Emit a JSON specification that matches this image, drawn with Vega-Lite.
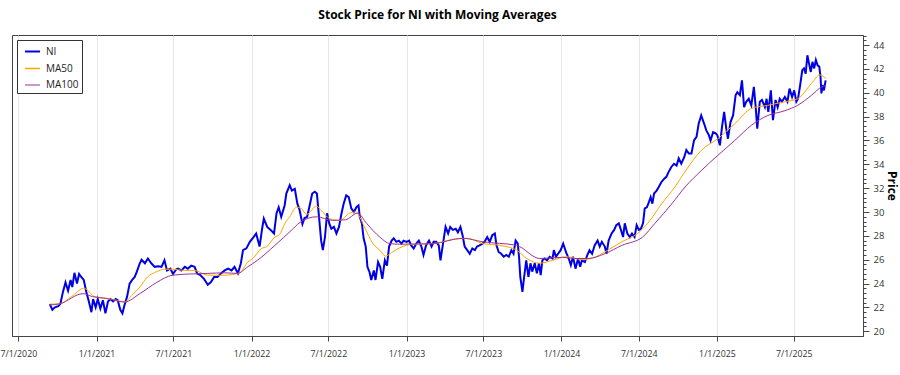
{
  "$schema": "https://vega.github.io/schema/vega-lite/v6.json",
  "width": 851,
  "height": 301,
  "autosize": {"type": "none"},
  "padding": {"left": 12, "top": 35, "right": 37, "bottom": 39},
  "background": "white",
  "title": {"text": "Stock Price for NI with Moving Averages", "fontSize": 12, "fontWeight": "bold", "font": "Open Sans", "color": "#000000", "offset": 9, "anchor": "middle", "frame": "group"},
  "config": {
    "font": "Open Sans",
    "view": {"stroke": "#444444", "strokeWidth": 1},
    "legend": {"orient": "top-left", "offset": 5, "padding": 3, "symbolOffset": 4, "strokeColor": "#333333", "fillColor": "white", "labelFontSize": 10, "labelFont": "Open Sans", "labelColor": "#222222", "symbolSize": 225, "symbolType": "stroke", "rowPadding": 3, "labelOffset": 5, "cornerRadius": 0}
  },
  "datasets": {
    "ni": [
      {"date":"2020-09-13","price":22.27},{"date":"2020-09-19","price":21.8},{"date":"2020-09-25","price":22.0},{"date":"2020-10-03","price":22.1},{"date":"2020-10-08","price":22.3},{"date":"2020-10-14","price":23.3},{"date":"2020-10-20","price":24.1},{"date":"2020-10-26","price":23.4},{"date":"2020-11-01","price":24.3},{"date":"2020-11-05","price":23.7},{"date":"2020-11-10","price":24.9},{"date":"2020-11-16","price":24.0},{"date":"2020-11-21","price":24.8},{"date":"2020-11-26","price":24.55},{"date":"2020-12-02","price":24.3},{"date":"2020-12-08","price":23.3},{"date":"2020-12-14","price":22.5},{"date":"2020-12-20","price":21.6},{"date":"2020-12-24","price":22.7},{"date":"2020-12-30","price":22.0},
      {"date":"2021-01-04","price":22.7},{"date":"2021-01-10","price":21.9},{"date":"2021-01-16","price":22.6},{"date":"2021-01-22","price":21.5},{"date":"2021-01-28","price":22.5},{"date":"2021-02-03","price":22.7},{"date":"2021-02-09","price":22.5},{"date":"2021-02-15","price":22.7},{"date":"2021-02-20","price":22.6},{"date":"2021-02-26","price":21.8},{"date":"2021-03-03","price":21.5},{"date":"2021-03-08","price":22.2},{"date":"2021-03-14","price":22.9},{"date":"2021-03-20","price":24.0},{"date":"2021-03-26","price":24.3},{"date":"2021-04-01","price":24.55},{"date":"2021-04-06","price":25.0},{"date":"2021-04-13","price":25.7},{"date":"2021-04-17","price":26.0},{"date":"2021-04-25","price":25.7},{"date":"2021-05-02","price":26.1},{"date":"2021-05-10","price":25.7},{"date":"2021-05-18","price":25.4},{"date":"2021-05-26","price":25.45},{"date":"2021-06-03","price":25.4},{"date":"2021-06-10","price":25.95},{"date":"2021-06-16","price":25.1},{"date":"2021-06-24","price":25.25},{"date":"2021-06-30","price":24.8},{"date":"2021-07-08","price":25.2},{"date":"2021-07-12","price":25.25},{"date":"2021-07-20","price":25.1},{"date":"2021-07-28","price":25.4},{"date":"2021-08-04","price":25.25},{"date":"2021-08-12","price":25.5},{"date":"2021-08-20","price":25.4},{"date":"2021-08-26","price":24.85},{"date":"2021-09-03","price":24.7},{"date":"2021-09-11","price":24.4},{"date":"2021-09-20","price":23.9},{"date":"2021-09-27","price":24.1},{"date":"2021-10-05","price":24.55},{"date":"2021-10-13","price":24.55},{"date":"2021-10-21","price":24.85},{"date":"2021-10-30","price":25.1},{"date":"2021-11-07","price":25.25},{"date":"2021-11-15","price":25.1},{"date":"2021-11-22","price":25.4},{"date":"2021-11-30","price":24.85},{"date":"2021-12-07","price":25.7},{"date":"2021-12-12","price":26.8},{"date":"2021-12-20","price":26.95},{"date":"2021-12-28","price":27.5},
      {"date":"2022-01-04","price":27.8},{"date":"2022-01-12","price":28.2},{"date":"2022-01-20","price":27.1},{"date":"2022-01-26","price":28.6},{"date":"2022-01-30","price":29.45},{"date":"2022-02-07","price":28.75},{"date":"2022-02-15","price":28.5},{"date":"2022-02-23","price":28.2},{"date":"2022-03-01","price":29.9},{"date":"2022-03-06","price":30.4},{"date":"2022-03-12","price":29.6},{"date":"2022-03-20","price":30.55},{"date":"2022-03-24","price":31.55},{"date":"2022-04-01","price":32.25},{"date":"2022-04-06","price":31.8},{"date":"2022-04-13","price":31.95},{"date":"2022-04-19","price":30.7},{"date":"2022-04-24","price":30.2},{"date":"2022-05-01","price":29.0},{"date":"2022-05-06","price":29.5},{"date":"2022-05-12","price":29.6},{"date":"2022-05-18","price":30.55},{"date":"2022-05-24","price":31.55},{"date":"2022-05-30","price":31.7},{"date":"2022-06-04","price":31.55},{"date":"2022-06-09","price":29.6},{"date":"2022-06-14","price":27.6},{"date":"2022-06-18","price":26.8},{"date":"2022-06-23","price":27.9},{"date":"2022-06-28","price":29.9},{"date":"2022-07-03","price":29.05},{"date":"2022-07-08","price":28.6},{"date":"2022-07-14","price":28.75},{"date":"2022-07-20","price":28.2},{"date":"2022-07-26","price":28.75},{"date":"2022-08-01","price":29.9},{"date":"2022-08-06","price":30.7},{"date":"2022-08-12","price":31.4},{"date":"2022-08-18","price":31.25},{"date":"2022-08-24","price":30.3},{"date":"2022-08-30","price":30.0},{"date":"2022-09-05","price":30.4},{"date":"2022-09-10","price":30.55},{"date":"2022-09-13","price":29.6},{"date":"2022-09-18","price":29.05},{"date":"2022-09-22","price":27.8},{"date":"2022-09-27","price":27.1},{"date":"2022-10-01","price":25.4},{"date":"2022-10-06","price":24.95},{"date":"2022-10-10","price":24.3},{"date":"2022-10-16","price":25.1},{"date":"2022-10-20","price":24.3},{"date":"2022-10-26","price":25.8},{"date":"2022-10-31","price":25.4},{"date":"2022-11-05","price":24.4},{"date":"2022-11-11","price":25.95},{"date":"2022-11-16","price":25.5},{"date":"2022-11-21","price":27.1},{"date":"2022-11-27","price":27.6},{"date":"2022-12-02","price":27.8},{"date":"2022-12-08","price":27.5},{"date":"2022-12-14","price":27.6},{"date":"2022-12-20","price":27.35},{"date":"2022-12-25","price":27.6},
      {"date":"2023-01-01","price":27.5},{"date":"2023-01-07","price":27.6},{"date":"2023-01-12","price":27.2},{"date":"2023-01-18","price":26.95},{"date":"2023-01-24","price":27.35},{"date":"2023-01-30","price":27.6},{"date":"2023-02-05","price":27.1},{"date":"2023-02-10","price":26.4},{"date":"2023-02-16","price":27.2},{"date":"2023-02-23","price":27.6},{"date":"2023-03-01","price":27.1},{"date":"2023-03-06","price":27.5},{"date":"2023-03-12","price":27.5},{"date":"2023-03-18","price":27.2},{"date":"2023-03-22","price":25.95},{"date":"2023-03-28","price":27.35},{"date":"2023-04-03","price":28.75},{"date":"2023-04-09","price":28.2},{"date":"2023-04-14","price":28.75},{"date":"2023-04-20","price":28.5},{"date":"2023-04-27","price":28.6},{"date":"2023-05-02","price":28.3},{"date":"2023-05-08","price":28.75},{"date":"2023-05-13","price":28.05},{"date":"2023-05-18","price":27.1},{"date":"2023-05-24","price":26.8},{"date":"2023-05-30","price":26.5},{"date":"2023-06-05","price":26.95},{"date":"2023-06-11","price":26.8},{"date":"2023-06-16","price":27.1},{"date":"2023-06-22","price":27.2},{"date":"2023-06-29","price":27.35},{"date":"2023-07-04","price":27.5},{"date":"2023-07-10","price":27.9},{"date":"2023-07-16","price":27.5},{"date":"2023-07-22","price":28.05},{"date":"2023-07-28","price":28.2},{"date":"2023-08-01","price":27.2},{"date":"2023-08-06","price":26.65},{"date":"2023-08-12","price":26.5},{"date":"2023-08-18","price":26.25},{"date":"2023-08-24","price":26.4},{"date":"2023-08-30","price":26.25},{"date":"2023-09-05","price":26.8},{"date":"2023-09-10","price":26.5},{"date":"2023-09-15","price":27.6},{"date":"2023-09-20","price":27.35},{"date":"2023-09-23","price":26.25},{"date":"2023-09-26","price":24.55},{"date":"2023-10-01","price":23.3},{"date":"2023-10-05","price":24.55},{"date":"2023-10-10","price":25.95},{"date":"2023-10-15","price":24.55},{"date":"2023-10-20","price":25.7},{"date":"2023-10-24","price":25.0},{"date":"2023-10-30","price":25.7},{"date":"2023-11-04","price":24.85},{"date":"2023-11-09","price":25.7},{"date":"2023-11-13","price":24.7},{"date":"2023-11-17","price":25.95},{"date":"2023-11-22","price":26.1},{"date":"2023-11-28","price":25.95},{"date":"2023-12-04","price":26.25},{"date":"2023-12-11","price":26.1},{"date":"2023-12-14","price":26.8},{"date":"2023-12-19","price":26.25},{"date":"2023-12-24","price":26.5},{"date":"2023-12-30","price":26.8},
      {"date":"2024-01-05","price":27.35},{"date":"2024-01-13","price":26.5},{"date":"2024-01-18","price":26.1},{"date":"2024-01-23","price":25.55},{"date":"2024-01-28","price":26.25},{"date":"2024-02-03","price":25.25},{"date":"2024-02-09","price":26.1},{"date":"2024-02-14","price":25.4},{"date":"2024-02-18","price":25.95},{"date":"2024-02-25","price":25.8},{"date":"2024-03-02","price":26.4},{"date":"2024-03-07","price":26.8},{"date":"2024-03-13","price":26.5},{"date":"2024-03-19","price":27.2},{"date":"2024-03-26","price":27.6},{"date":"2024-03-31","price":27.1},{"date":"2024-04-05","price":27.5},{"date":"2024-04-12","price":27.1},{"date":"2024-04-16","price":26.5},{"date":"2024-04-21","price":27.6},{"date":"2024-04-28","price":28.2},{"date":"2024-05-04","price":28.5},{"date":"2024-05-09","price":28.9},{"date":"2024-05-15","price":29.05},{"date":"2024-05-20","price":28.5},{"date":"2024-05-25","price":27.9},{"date":"2024-05-29","price":29.05},{"date":"2024-06-04","price":28.2},{"date":"2024-06-10","price":27.9},{"date":"2024-06-15","price":28.2},{"date":"2024-06-21","price":27.9},{"date":"2024-06-26","price":28.9},{"date":"2024-07-01","price":28.5},{"date":"2024-07-06","price":28.6},{"date":"2024-07-11","price":29.05},{"date":"2024-07-15","price":30.3},{"date":"2024-07-20","price":30.4},{"date":"2024-07-25","price":30.85},{"date":"2024-07-29","price":31.25},{"date":"2024-08-02","price":30.7},{"date":"2024-08-06","price":31.55},{"date":"2024-08-12","price":31.8},{"date":"2024-08-17","price":32.1},{"date":"2024-08-23","price":32.5},{"date":"2024-08-30","price":32.8},{"date":"2024-09-04","price":32.95},{"date":"2024-09-09","price":33.35},{"date":"2024-09-16","price":33.8},{"date":"2024-09-22","price":34.05},{"date":"2024-09-28","price":33.9},{"date":"2024-10-03","price":34.5},{"date":"2024-10-09","price":34.05},{"date":"2024-10-16","price":34.6},{"date":"2024-10-21","price":35.2},{"date":"2024-10-27","price":34.9},{"date":"2024-11-02","price":34.9},{"date":"2024-11-08","price":36.0},{"date":"2024-11-14","price":36.3},{"date":"2024-11-19","price":37.4},{"date":"2024-11-25","price":38.1},{"date":"2024-12-02","price":37.4},{"date":"2024-12-07","price":36.85},{"date":"2024-12-13","price":36.45},{"date":"2024-12-17","price":36.0},{"date":"2024-12-23","price":36.7},{"date":"2024-12-29","price":36.6},
      {"date":"2025-01-02","price":36.45},{"date":"2025-01-08","price":35.6},{"date":"2025-01-13","price":37.15},{"date":"2025-01-18","price":38.4},{"date":"2025-01-23","price":37.0},{"date":"2025-01-27","price":36.15},{"date":"2025-02-02","price":37.55},{"date":"2025-02-08","price":38.1},{"date":"2025-02-14","price":39.8},{"date":"2025-02-18","price":40.05},{"date":"2025-02-24","price":39.8},{"date":"2025-03-01","price":41.05},{"date":"2025-03-06","price":38.8},{"date":"2025-03-11","price":39.25},{"date":"2025-03-17","price":39.5},{"date":"2025-03-23","price":38.95},{"date":"2025-03-29","price":40.5},{"date":"2025-04-02","price":38.95},{"date":"2025-04-06","price":37.0},{"date":"2025-04-12","price":39.25},{"date":"2025-04-17","price":39.4},{"date":"2025-04-24","price":38.8},{"date":"2025-04-28","price":39.5},{"date":"2025-05-02","price":38.4},{"date":"2025-05-08","price":40.2},{"date":"2025-05-13","price":37.7},{"date":"2025-05-19","price":39.4},{"date":"2025-05-24","price":38.8},{"date":"2025-05-29","price":39.5},{"date":"2025-06-03","price":39.25},{"date":"2025-06-10","price":39.65},{"date":"2025-06-16","price":39.25},{"date":"2025-06-21","price":40.35},{"date":"2025-06-27","price":39.65},{"date":"2025-07-02","price":40.2},{"date":"2025-07-07","price":39.25},{"date":"2025-07-11","price":39.5},{"date":"2025-07-16","price":40.65},{"date":"2025-07-21","price":41.9},{"date":"2025-07-25","price":42.05},{"date":"2025-07-29","price":41.6},{"date":"2025-08-02","price":43.15},{"date":"2025-08-06","price":42.45},{"date":"2025-08-10","price":41.75},{"date":"2025-08-14","price":42.6},{"date":"2025-08-18","price":42.05},{"date":"2025-08-22","price":42.75},{"date":"2025-08-26","price":42.3},{"date":"2025-08-30","price":42.2},{"date":"2025-09-02","price":41.35},{"date":"2025-09-04","price":39.95},{"date":"2025-09-07","price":40.65},{"date":"2025-09-10","price":40.2},{"date":"2025-09-14","price":41.05}
    ],
    "ma50": [
      {"date":"2020-09-13","price":22.27},{"date":"2020-10-06","price":22.3},{"date":"2020-11-03","price":22.9},{"date":"2020-12-02","price":23.6},{"date":"2020-12-28","price":22.9},{"date":"2021-01-25","price":22.75},{"date":"2021-02-24","price":22.55},{"date":"2021-03-08","price":22.45},{"date":"2021-03-25","price":23.0},{"date":"2021-04-13","price":23.7},{"date":"2021-05-01","price":24.55},{"date":"2021-05-23","price":25.0},{"date":"2021-06-10","price":25.2},{"date":"2021-06-29","price":25.2},{"date":"2021-07-28","price":25.1},{"date":"2021-08-20","price":25.1},{"date":"2021-09-20","price":24.7},{"date":"2021-10-30","price":24.7},{"date":"2021-12-04","price":24.9},{"date":"2021-12-23","price":25.8},{"date":"2022-01-04","price":26.1},{"date":"2022-01-25","price":26.95},{"date":"2022-02-06","price":27.1},{"date":"2022-02-25","price":27.9},{"date":"2022-03-08","price":28.1},{"date":"2022-03-20","price":29.0},{"date":"2022-04-01","price":29.6},{"date":"2022-04-17","price":30.4},{"date":"2022-04-28","price":30.3},{"date":"2022-05-11","price":29.8},{"date":"2022-06-03","price":30.5},{"date":"2022-06-15","price":30.1},{"date":"2022-07-04","price":29.45},{"date":"2022-07-28","price":29.3},{"date":"2022-08-20","price":29.9},{"date":"2022-09-03","price":30.0},{"date":"2022-09-24","price":28.75},{"date":"2022-10-13","price":27.4},{"date":"2022-10-30","price":26.8},{"date":"2022-11-13","price":26.3},{"date":"2022-11-27","price":26.6},{"date":"2022-12-16","price":27.0},{"date":"2023-01-16","price":27.3},{"date":"2023-03-04","price":27.35},{"date":"2023-04-20","price":27.7},{"date":"2023-05-23","price":27.8},{"date":"2023-06-30","price":27.35},{"date":"2023-08-09","price":27.2},{"date":"2023-09-17","price":26.8},{"date":"2023-10-11","price":26.1},{"date":"2023-11-11","price":25.7},{"date":"2023-12-11","price":25.95},{"date":"2024-01-13","price":26.25},{"date":"2024-02-20","price":26.0},{"date":"2024-03-31","price":26.4},{"date":"2024-04-12","price":26.65},{"date":"2024-05-22","price":27.5},{"date":"2024-06-28","price":28.2},{"date":"2024-07-22","price":29.05},{"date":"2024-08-24","price":30.7},{"date":"2024-09-24","price":32.1},{"date":"2024-10-20","price":33.5},{"date":"2024-11-26","price":35.2},{"date":"2025-01-03","price":36.15},{"date":"2025-02-12","price":37.4},{"date":"2025-03-24","price":38.7},{"date":"2025-05-01","price":38.95},{"date":"2025-06-10","price":39.25},{"date":"2025-07-10","price":39.5},{"date":"2025-08-12","price":40.8},{"date":"2025-08-31","price":41.5},{"date":"2025-09-14","price":41.2}
    ],
    "ma100": [
      {"date":"2020-09-13","price":22.2},{"date":"2020-10-06","price":22.3},{"date":"2020-11-30","price":23.15},{"date":"2020-12-23","price":22.9},{"date":"2021-01-25","price":22.75},{"date":"2021-03-08","price":22.45},{"date":"2021-04-13","price":23.15},{"date":"2021-05-23","price":24.1},{"date":"2021-06-29","price":24.7},{"date":"2021-08-08","price":24.8},{"date":"2021-09-20","price":24.85},{"date":"2021-10-30","price":24.9},{"date":"2021-11-29","price":24.85},{"date":"2021-12-23","price":25.4},{"date":"2022-01-15","price":25.95},{"date":"2022-02-25","price":27.2},{"date":"2022-04-06","price":28.5},{"date":"2022-04-24","price":29.1},{"date":"2022-06-03","price":29.6},{"date":"2022-07-11","price":29.3},{"date":"2022-08-10","price":29.35},{"date":"2022-09-08","price":29.9},{"date":"2022-09-29","price":29.05},{"date":"2022-10-30","price":27.9},{"date":"2022-11-23","price":27.35},{"date":"2022-12-16","price":27.3},{"date":"2023-03-04","price":27.35},{"date":"2023-05-13","price":27.8},{"date":"2023-06-30","price":27.5},{"date":"2023-09-17","price":27.2},{"date":"2023-11-11","price":26.1},{"date":"2024-01-04","price":26.2},{"date":"2024-02-01","price":26.1},{"date":"2024-03-03","price":26.1},{"date":"2024-04-12","price":26.5},{"date":"2024-05-22","price":27.2},{"date":"2024-07-10","price":27.9},{"date":"2024-08-08","price":29.05},{"date":"2024-09-17","price":30.7},{"date":"2024-10-18","price":32.1},{"date":"2024-11-26","price":33.5},{"date":"2025-01-03","price":34.75},{"date":"2025-02-12","price":36.0},{"date":"2025-03-24","price":37.3},{"date":"2025-05-01","price":38.1},{"date":"2025-06-10","price":38.5},{"date":"2025-07-10","price":38.95},{"date":"2025-08-12","price":39.8},{"date":"2025-09-05","price":40.5},{"date":"2025-09-14","price":40.6}
    ]
  },
  "encoding": {
    "x": {
      "field": "date", "type": "temporal",
      "scale": {"type": "utc", "domain": [{"year": 2020, "month": 6, "date": 16, "utc": true}, {"year": 2025, "month": 12, "date": 11, "utc": true}]},
      "axis": {
        "title": null,
        "values": [
          {"year": 2020, "month": 7, "date": 1, "utc": true}, {"year": 2021, "month": 1, "date": 1, "utc": true},
          {"year": 2021, "month": 7, "date": 1, "utc": true}, {"year": 2022, "month": 1, "date": 1, "utc": true},
          {"year": 2022, "month": 7, "date": 1, "utc": true}, {"year": 2023, "month": 1, "date": 1, "utc": true},
          {"year": 2023, "month": 7, "date": 1, "utc": true}, {"year": 2024, "month": 1, "date": 1, "utc": true},
          {"year": 2024, "month": 7, "date": 1, "utc": true}, {"year": 2025, "month": 1, "date": 1, "utc": true},
          {"year": 2025, "month": 7, "date": 1, "utc": true}
        ],
        "labelExpr": "utcFormat(datum.value, '%-m/%-d/%Y')",
        "labelFontSize": 8.8, "labelColor": "#333333", "labelFont": "Open Sans", "labelPadding": 8,
        "tickSize": 5, "tickColor": "#444444", "domainColor": "#444444",
        "grid": true, "gridColor": "#e6e6e6", "labelOverlap": false, "labelFlush": false
      }
    },
    "y": {
      "field": "price", "type": "quantitative",
      "scale": {"domain": [19.6, 44.85], "zero": false, "nice": false},
      "axis": {
        "orient": "right", "title": "Price", "titleFontSize": 12, "titleFontWeight": "bold", "titleFont": "Open Sans", "titleColor": "#000000", "titleAngle": 90, "titlePadding": 1,
        "values": [20, 20.4, 20.8, 21.2, 21.6, 22, 22.4, 22.8, 23.2, 23.6, 24, 24.4, 24.8, 25.2, 25.6, 26, 26.4, 26.8, 27.2, 27.6, 28, 28.4, 28.8, 29.2, 29.6, 30, 30.4, 30.8, 31.2, 31.6, 32, 32.4, 32.8, 33.2, 33.6, 34, 34.4, 34.8, 35.2, 35.6, 36, 36.4, 36.8, 37.2, 37.6, 38, 38.4, 38.8, 39.2, 39.6, 40, 40.4, 40.8, 41.2, 41.6, 42, 42.4, 42.8, 43.2, 43.6, 44, 44.4, 44.8],
        "labelExpr": "abs(datum.value - 2 * round(datum.value / 2)) < 0.01 ? format(datum.value, 'd') : ''",
        "tickSize": {"condition": {"test": "abs(datum.value - 2 * round(datum.value / 2)) < 0.01", "value": 6}, "value": 3},
        "labelFontSize": 9.5, "labelColor": "#333333", "labelFont": "Open Sans", "labelPadding": 4,
        "tickColor": "#444444", "domainColor": "#444444", "grid": false, "labelOverlap": false, "labelBound": false
      }
    }
  },
  "layer": [
    {
      "data": {"name": "ni"},
      "mark": {"type": "line", "strokeWidth": 2},
      "encoding": {
        "color": {"datum": "NI", "type": "nominal", "scale": {"domain": ["NI", "MA50", "MA100"], "range": ["#0000e6", "#ffa500", "#993399"]}, "legend": {"title": null}},
        "strokeWidth": {"datum": "NI", "type": "nominal", "scale": {"domain": ["NI", "MA50", "MA100"], "range": [2, 1, 1]}, "legend": {"title": null}}
      }
    },
    {
      "data": {"name": "ma50"},
      "mark": {"type": "line", "strokeWidth": 1, "interpolate": "monotone"},
      "encoding": {
        "color": {"datum": "MA50", "type": "nominal"},
        "strokeWidth": {"datum": "MA50", "type": "nominal"}
      }
    },
    {
      "data": {"name": "ma100"},
      "mark": {"type": "line", "strokeWidth": 1, "interpolate": "monotone"},
      "encoding": {
        "color": {"datum": "MA100", "type": "nominal"},
        "strokeWidth": {"datum": "MA100", "type": "nominal"}
      }
    }
  ]
}
